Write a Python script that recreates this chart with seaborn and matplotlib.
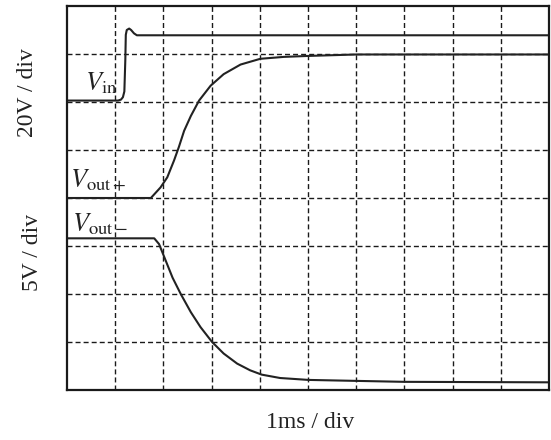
import numpy as np
import pandas as pd
import matplotlib
matplotlib.use("Agg")
import matplotlib.pyplot as plt
import seaborn as sns

# Time axis in divisions (1 ms / div), vertical axis in screen divisions
vin_t = [0.0, 1.06, 1.12, 1.16, 1.19, 1.21, 1.22, 1.24, 1.29, 1.33, 1.39, 1.45, 10.0]
vin_v = [6.03, 6.03, 6.05, 6.1, 6.22, 6.88, 7.40, 7.50, 7.53, 7.50, 7.43, 7.39, 7.39]

voutp_t = [0.0, 1.74, 1.94, 2.08, 2.22, 2.32, 2.43, 2.57, 2.74, 2.98, 3.25, 3.60, 4.01, 4.50, 5.01, 6.0, 10.0]
voutp_v = [4.0, 4.0, 4.22, 4.43, 4.78, 5.06, 5.40, 5.71, 6.03, 6.34, 6.58, 6.78, 6.90, 6.94, 6.96, 6.99, 6.99]

voutn_t = [0.0, 1.81, 1.91, 2.05, 2.19, 2.36, 2.57, 2.77, 3.01, 3.25, 3.53, 3.80, 4.04, 4.42, 5.01, 6.0, 7.0, 10.0]
voutn_v = [3.16, 3.16, 3.04, 2.69, 2.34, 2.00, 1.62, 1.31, 1.00, 0.76, 0.55, 0.41, 0.32, 0.25, 0.21, 0.19, 0.17, 0.16]

x_label = "1ms / div"
y_label_top = "20V / div"
y_label_bottom = "5V / div"

sns.set_style("white")
plt.rcParams["font.family"] = ["Liberation Serif", "DejaVu Serif"]
plt.rcParams["mathtext.fontset"] = "stix"

fig = plt.figure(figsize=(5.51, 4.40), dpi=100)
ax = fig.add_axes([67 / 551, 1 - 390 / 440, (549 - 67) / 551, (390 - 6) / 440])

def frame(t, v, name):
    return pd.DataFrame({"t": t, "v": v, "trace": name})

df = pd.concat([
    frame(vin_t, vin_v, "Vin"),
    frame(voutp_t, voutp_v, "Vout+"),
    frame(voutn_t, voutn_v, "Vout-"),
])

for name in ["Vin", "Vout+", "Vout-"]:
    sub = df[df.trace == name]
    sns.lineplot(data=sub, x="t", y="v", ax=ax, color="#222222", lw=1.5,
                 sort=False, estimator=None, solid_joinstyle="round")

ax.set_xlim(0, 10)
ax.set_ylim(0, 8)
ax.set_xticks(np.arange(1, 10))
ax.set_yticks(np.arange(1, 8))
ax.tick_params(length=0, labelbottom=False, labelleft=False)
ax.grid(True, color="#1a1a1a", lw=1.0, linestyle=(0, (3.6, 2.2)))
ax.set_axisbelow(True)
for s in ax.spines.values():
    s.set_visible(True)
    s.set_color("#1a1a1a")
    s.set_linewidth(1.6)
ax.set_xlabel("")
ax.set_ylabel("")
if ax.get_legend():
    ax.get_legend().remove()

ax.text(0.37, 6.25, r"$V_{\mathrm{in}}$", fontsize=19, ha="left", va="baseline", color="#222222")
ax.text(0.06, 4.22, r"$V_{\mathrm{out+}}$", fontsize=19, ha="left", va="baseline", color="#222222")
ax.text(0.10, 3.3, r"$V_{\mathrm{out-}}$", fontsize=19, ha="left", va="baseline", color="#222222")

fig.text(310 / 551, 1 - 422 / 440, x_label, fontsize=17, ha="center", va="center", color="#222222")
fig.text(27.5 / 551, 1 - 93 / 440, y_label_top, fontsize=17, ha="center", va="center", rotation=90, color="#222222")
fig.text(32 / 551, 1 - 252 / 440, y_label_bottom, fontsize=17, ha="center", va="center", rotation=90, color="#222222")

fig.savefig("out.png", dpi=100)
